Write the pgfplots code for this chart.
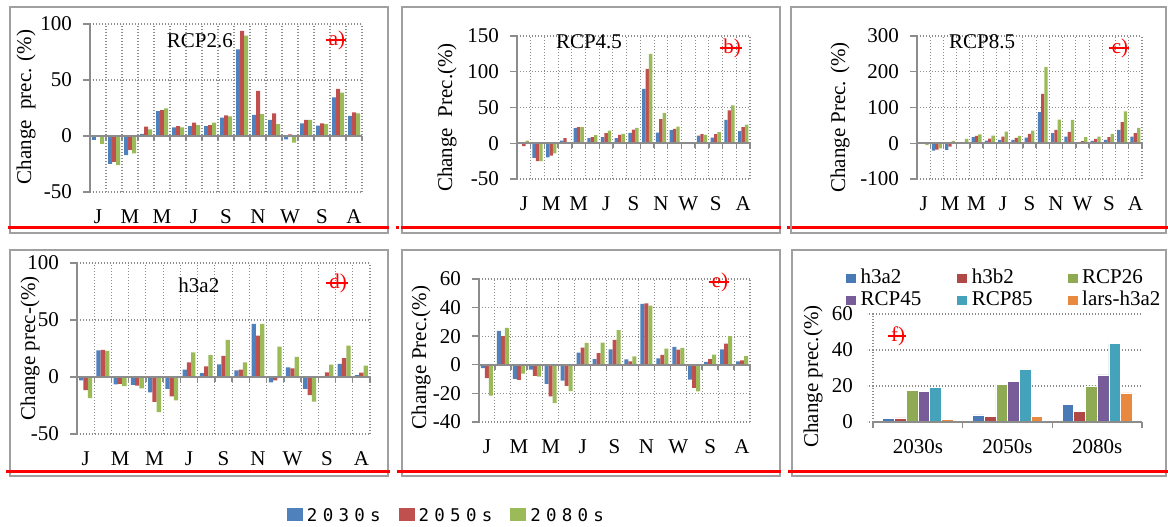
\documentclass[border=0pt]{standalone}
\usepackage{pgfplots}
\pgfplotsset{compat=1.18}
\usepackage{pgfplotstable}
\usepackage{fontspec}
\setmainfont{Liberation Serif}
\newfontfamily\legfont[LetterSpace=30]{DejaVu Sans Mono}
\newcommand\fs{\fontsize{21}{25}\selectfont}
\definecolor{cB}{HTML}{4F81BD}
\definecolor{cR}{HTML}{C0504D}
\definecolor{cG}{HTML}{9BBB59}
\definecolor{fB}{HTML}{4A7AB6}
\definecolor{fR}{HTML}{B04845}
\definecolor{fG}{HTML}{8EAA52}
\definecolor{fP}{HTML}{775C99}
\definecolor{fT}{HTML}{44A2BB}
\definecolor{fO}{HTML}{E9893F}
\definecolor{axgray}{HTML}{8C8C8C}
\definecolor{boxgray}{HTML}{A0A0A0}

\pgfplotstableread{
c b r g
0 -3.5 0.3 -7
1 -25 -23 -26
2 -17 -12.5 -15.5
3 1.8 8.3 6
4 22.3 23.2 24.7
5 7.7 8.9 7.7
6 8.9 11.9 9.8
7 8.9 9.8 11.9
8 16.4 18.5 17.6
9 77.4 93.8 89.6
10 18.8 40.2 19.6
11 14.3 20.2 10.7
12 -3 1.5 -6
13 11.3 14.3 14.3
14 9.2 11.3 10.7
15 34.5 42 38.7
16 17.9 21.1 20.2
}\tA
\pgfplotstableread{
c b r g
0 0.3 -4 3.7
1 -20.6 -25 -25
2 -19.6 -17.3 -14
3 3.7 7 0.5
4 21 22.4 22.4
5 7 8.4 11.2
6 8.4 14 17.8
7 7 11.7 13
8 14.5 19 21.5
9 76 104 125
10 15 33.6 42.5
11 18.2 20 23.4
12 0.5 0.5 1
13 10.7 12.6 11.7
14 8 12.6 15.4
15 32.7 45.8 52.8
16 16.8 22.4 26.2
}\tB
\pgfplotstableread{
c b r g
0 -1 -2 -5
1 -20.6 -17.8 -14
2 -18.7 -9.3 6.5
3 1 3 12
4 16.8 20.6 25
5 7.5 13 21.5
6 9.3 18.7 32.7
7 9.3 15 20.6
8 15.9 26 35.5
9 87 138 213
10 28 37.4 66
11 18.7 31.8 65.4
12 1 5.6 16.8
13 6.5 12 18.7
14 9.3 16.8 26
15 37.4 59 89
16 18.7 28 43
}\tC
\pgfplotstableread{
c b r g
0 -3 -11.6 -18.6
1 23.3 23.8 23
2 -6.4 -6.1 -8.1
3 -7 -7.6 -9.9
4 -13.4 -21.8 -30.8
5 -10.5 -16.9 -20.6
6 6.4 12.8 21.5
7 3.5 9.3 19.2
8 11 18.6 32.6
9 5.8 6.4 12.8
10 46.5 36.3 46.5
11 -4.7 -2.9 26.7
12 8.4 7.6 17.7
13 -10.5 -16 -21.5
14 0.7 4 10.8
15 11.6 16.6 27.6
16 1.7 3.8 9.9
}\tD
\pgfplotstableread{
c b r g
0 -2.4 -9.4 -21.6
1 23.8 20 25.9
2 -9.9 -10.6 -6.1
3 -3.3 -7.8 -8.2
4 -13.4 -22.1 -26.8
5 -11.1 -14.8 -18.4
6 8.5 12 15.3
7 4 8.2 15.5
8 10.8 17.4 24.2
9 3.8 2.4 5.9
10 42.6 43 41.4
11 4.5 7 11.3
12 12.5 10.6 11.8
13 -10.4 -16.2 -18.6
14 2.1 4 7.1
15 10.8 14.8 20
16 2.4 3.1 6.1
}\tE
\pgfplotstableread{
c h3a2 h3b2 r26 r45 r85 lars
0 1.9 2.3 17.7 16.8 19 1.5
1 3.9 3.3 21 22.7 29.4 3.3
2 9.9 6.1 20.1 26.2 43.7 16.2
}\tF

\tikzset{lbl/.style={text=red, inner sep=0pt, font=\fs}}
\pgfplotsset{
  base/.style={
    scale only axis,
    axis line style={draw=none},
    major tick length=0pt,
    tick label style={font=\fs},
    /pgf/number format/assume math mode=true,
    yticklabel style={anchor=east, inner sep=0pt, xshift=-18pt},
    xticklabel style={anchor=base, inner sep=0pt, yshift=-32pt},
    grid style={axgray, line width=1.1pt, dash pattern=on 1.1pt off 1.9pt},
    ymajorgrids,
    every axis y label/.style={rotate=90, anchor=center, font=\fs},
    clip=false,
  },
  mon/.style={base, ybar=0pt, bar width=#1,
    xmin=-0.5, xmax=16.5,
    xtick={-0.5,0.5,...,16.5}, xticklabels={},
    xmajorgrids,
    extra x ticks={0,2,...,16},
    extra x tick labels={J,M,M,J,S,N,W,S,A},
    extra x tick style={grid=none},
  },
  bigsq/.style={legend image code/.code={\fill[##1] (0pt,-4pt) rectangle (16pt,9pt);}},
  smallsq/.style={legend image code/.code={\fill[##1] (0pt,-3pt) rectangle (11pt,7pt);}},
}
\newcommand\monaxis[1]{%
  \draw[axgray, line width=1.6pt] (rel axis cs:0,0) -- (rel axis cs:0,1);
  \draw[axgray, line width=1.6pt] (axis cs:-0.5,0) -- (axis cs:16.5,0);
  \pgfplotsinvokeforeach{#1}{\draw[axgray, line width=1.4pt] (axis cs:-0.5,##1) -- ++(-7pt,0pt);}
  \pgfplotsinvokeforeach{-0.5,0.5,...,16.5}{\draw[axgray, line width=1.4pt] (axis cs:##1,0) -- ++(0pt,-5pt);}
}
\newcommand\strk[3]{% name, position, text
  \node[lbl] (#1) at (#2) {#3};
  \draw[red, line width=1.1pt] ([xshift=-3pt]#1.west) -- ([xshift=1pt]#1.east);
}

\begin{document}
\begin{tikzpicture}[x=1pt,y=1pt]
\useasboundingbox (0,0) rectangle (1168,527);
% panel boxes
\draw[boxgray, line width=1.8pt] (10,294) rectangle (388,520);
\draw[boxgray, line width=1.8pt] (402,294) rectangle (780,520);
\draw[boxgray, line width=1.8pt] (791,294) rectangle (1166,520);
\draw[boxgray, line width=1.8pt] (10,51) rectangle (388,277);
\draw[boxgray, line width=1.8pt] (402,51) rectangle (780,277);
\draw[boxgray, line width=1.8pt] (792,51) rectangle (1166,277);

% a) RCP2.6
\begin{axis}[mon=4pt, at={(90pt,335pt)}, anchor=south west, width=272pt, height=168pt,
  ymin=-50, ymax=100, ytick={-50,0,50,100},
  ylabel={Change\ \ prec. (\%)}, ylabel style={at={(rel axis cs:-0.235,0.506)}}]
\addplot[fill=cB, draw=none] table[x=c,y=b]{\tA};
\addplot[fill=cR, draw=none] table[x=c,y=r]{\tA};
\addplot[fill=cG, draw=none] table[x=c,y=g]{\tA};
\monaxis{-50,0,50,100}
\node[font=\fs] at (rel axis cs:0.404,0.899) {RCP2.6};
\strk{la}{rel axis cs:0.908,0.905}{a)}
\end{axis}

% b) RCP4.5
\begin{axis}[mon=3.4pt, at={(517pt,348pt)}, anchor=south west, width=233pt, height=143pt,
  ymin=-50, ymax=150, ytick={-50,0,50,100,150},
  ylabel={Change\ \ Prec.(\%)}, ylabel style={at={(rel axis cs:-0.30,0.43)}}]
\addplot[fill=cB, draw=none] table[x=c,y=b]{\tB};
\addplot[fill=cR, draw=none] table[x=c,y=r]{\tB};
\addplot[fill=cG, draw=none] table[x=c,y=g]{\tB};
\monaxis{-50,0,50,100,150}
\node[font=\fs] at (rel axis cs:0.309,0.958) {RCP4.5};
\strk{lb}{rel axis cs:0.923,0.916}{b)}
\end{axis}

% c) RCP8.5
\begin{axis}[mon=3.3pt, at={(917pt,348pt)}, anchor=south west, width=225pt, height=143pt,
  ymin=-100, ymax=300, ytick={-100,0,100,200,300},
  ylabel={Change Prec. (\%)}, ylabel style={at={(rel axis cs:-0.342,0.43)}}]
\addplot[fill=cB, draw=none] table[x=c,y=b]{\tC};
\addplot[fill=cR, draw=none] table[x=c,y=r]{\tC};
\addplot[fill=cG, draw=none] table[x=c,y=g]{\tC};
\monaxis{-100,0,100,200,300}
\node[font=\fs] at (rel axis cs:0.289,0.958) {RCP8.5};
\strk{lc}{rel axis cs:0.902,0.916}{c)}
\end{axis}

% d) h3a2
\pgfplotsset{ybar legend/.style={bigsq}}
\begin{axis}[mon=4.3pt, at={(77pt,93pt)}, anchor=south west, width=293pt, height=171pt,
  ymin=-50, ymax=100, ytick={-50,0,50,100},
  ylabel={Change prec-(\%)}, ylabel style={at={(rel axis cs:-0.160,0.5)}},
  legend columns=3, legend cell align=left,
  every axis plot post/.append style={bigsq},
  legend style={at={(rel axis cs:0.7167,-0.4327)}, anchor=north west, draw=none, fill=none,
    inner sep=0pt, outer sep=0pt, font=\legfont\fontsize{17.5}{18}\selectfont,
    nodes={inner sep=0pt, text height=14pt, text depth=4pt},
    /tikz/every odd column/.style={column sep=4pt},
    /tikz/every even column/.style={column sep=18pt}}]
\addplot[fill=cB, draw=none, bigsq] table[x=c,y=b]{\tD};
\addplot[fill=cR, draw=none, bigsq] table[x=c,y=r]{\tD};
\addplot[fill=cG, draw=none, bigsq] table[x=c,y=g]{\tD};
\legend{2030s,2050s,2080s}
\monaxis{-50,0,50,100}
\node[font=\fs] at (rel axis cs:0.416,0.871) {h3a2};
\strk{ld}{rel axis cs:0.891,0.883}{d)}
\end{axis}

% e)
\begin{axis}[mon=4pt, at={(479pt,105pt)}, anchor=south west, width=271pt, height=143pt,
  ymin=-40, ymax=60, ytick={-40,-20,0,20,40,60},
  ylabel={Change Prec.(\%)}, ylabel style={at={(rel axis cs:-0.214,0.45)}}]
\addplot[fill=cB, draw=none] table[x=c,y=b]{\tE};
\addplot[fill=cR, draw=none] table[x=c,y=r]{\tE};
\addplot[fill=cG, draw=none] table[x=c,y=g]{\tE};
\monaxis{-40,-20,0,20,40,60}
\strk{le}{rel axis cs:0.889,0.979}{e)}
\end{axis}

% f)
\pgfplotsset{ybar legend/.style={smallsq}}
\begin{axis}[base, ybar=0pt, bar width=11.7pt, at={(873pt,105pt)}, anchor=south west, width=269pt, height=108pt,
  xmin=-0.5, xmax=2.5, ymin=0, ymax=60, ytick={0,20,40,60},
  xtick={0,1,2}, xticklabels={2030s,2050s,2080s},
  yticklabel style={xshift=-2pt},
  ylabel={Change prec.(\%)}, ylabel style={at={(rel axis cs:-0.223,0.42)}},
  legend columns=3, legend cell align=left,
  every axis plot post/.append style={smallsq},
  legend style={at={(rel axis cs:-0.104,1.4167)}, anchor=north west, draw=none, fill=none,
    inner sep=0pt, outer sep=0pt, font=\fs,
    nodes={inner sep=0pt, text height=15pt, text depth=7pt},
    /tikz/every odd column/.style={column sep=4pt},
    /tikz/column 2/.style={column sep=35pt},
    /tikz/column 4/.style={column sep=34pt}}]
\addplot[fill=fB, draw=white, line width=0.6pt, smallsq] table[x=c,y=h3a2]{\tF};
\addplot[fill=fR, draw=white, line width=0.6pt, smallsq] table[x=c,y=h3b2]{\tF};
\addplot[fill=fG, draw=white, line width=0.6pt, smallsq] table[x=c,y=r26]{\tF};
\addplot[fill=fP, draw=white, line width=0.6pt, smallsq] table[x=c,y=r45]{\tF};
\addplot[fill=fT, draw=white, line width=0.6pt, smallsq] table[x=c,y=r85]{\tF};
\addplot[fill=fO, draw=white, line width=0.6pt, smallsq] table[x=c,y=lars]{\tF};
\legend{h3a2,h3b2,RCP26,RCP45,RCP85,lars-h3a2}
\draw[axgray, line width=1.1pt, dash pattern=on 1.1pt off 1.9pt] (rel axis cs:0,0) -- (rel axis cs:0,1);
\draw[axgray, line width=1.6pt] (axis cs:-0.5,0) -- (axis cs:2.5,0);
\pgfplotsinvokeforeach{-0.5,0.5,1.5,2.5}{\draw[axgray, line width=1.4pt] (axis cs:#1,0) -- ++(0pt,-6pt);}
\pgfplotsinvokeforeach{0,20,40,60}{\draw[axgray, line width=1.1pt, dash pattern=on 1.1pt off 1.9pt] (axis cs:-0.5,#1) -- ++(-6pt,0pt);}
\strk{lf}{rel axis cs:0.093,0.796}{f)}
\end{axis}

% red lines
\draw[red, line width=3pt] (8,299) -- (389,299);
\draw[red, line width=3pt] (396,299) -- (399,299);
\draw[red, line width=3pt] (401,299) -- (781,299);
\draw[red, line width=3pt] (787,299) -- (790,299);
\draw[red, line width=3pt] (792,299) -- (1168,299);
\draw[red, line width=3pt] (6,55) -- (390,55);
\draw[red, line width=3pt] (397,55) -- (781,55);
\draw[red, line width=3pt] (788,55) -- (1168,55);
\end{tikzpicture}
\end{document}
